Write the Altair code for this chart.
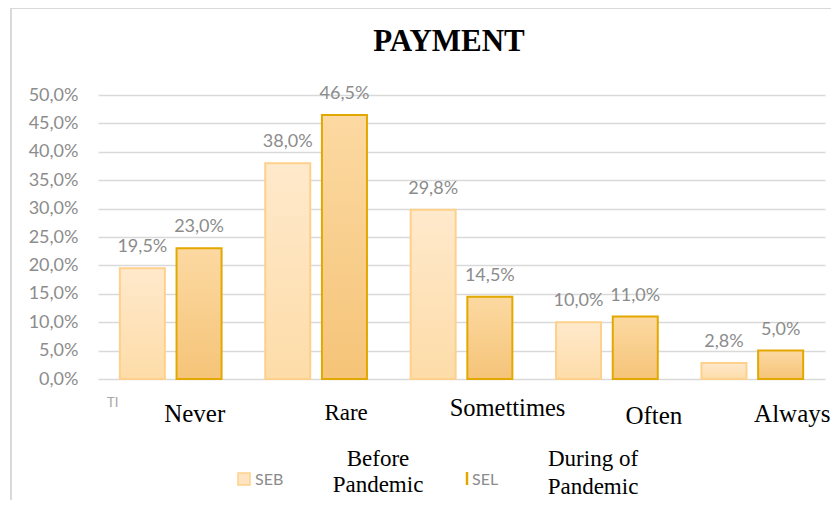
import altair as alt
import pandas as pd

categories = ["Never", "Rare", "Sometimes", "Often", "Always"]
series_names = ["Before", "During"]
before_values = [19.5, 38.0, 29.8, 10.0, 2.8]
during_values = [23.0, 46.5, 14.5, 11.0, 5.0]
y_ticks = [0, 5, 10, 15, 20, 25, 30, 35, 40, 45, 50]
x_label_texts = ["Never", "Rare", "Somettimes", "Often", "Always"]
title_text = "PAYMENT"

rows = []
for c, b, d in zip(categories, before_values, during_values):
    rows.append({"cat": c, "series": "Before", "value": b})
    rows.append({"cat": c, "series": "During", "value": d})
df = pd.DataFrame(rows)
df["label"] = df["value"].map(lambda v: f"{v:.1f}".replace(".", ",") + "%")

W, H = 727, 284
one = pd.DataFrame({"a": [0]})

x_enc = alt.X("cat:N", sort=categories,
              scale=alt.Scale(domain=categories, paddingInner=0, paddingOuter=0),
              axis=None)
xo_enc = alt.XOffset("series:N", sort=series_names,
                     scale=alt.Scale(domain=series_names, paddingInner=0.206, paddingOuter=0.385))
y_enc = alt.Y("value:Q",
              scale=alt.Scale(domain=[0, 50], nice=False, zero=True),
              axis=alt.Axis(values=y_ticks,
                            labelExpr="replace(format(datum.value, '.1f'), '.', ',') + '%'",
                            labelOverlap=False,
                            grid=True, gridColor="#D9D9D9", gridWidth=1.5,
                            domain=False, ticks=False, labelPadding=20,
                            labelFont="Lato", labelFontSize=18, labelColor="#8C8C8C",
                            title=None))

grad_before = {"gradient": "linear", "x1": 0, "y1": 0, "x2": 0, "y2": 1,
               "stops": [{"offset": 0, "color": "#FFE9CC"}, {"offset": 1, "color": "#FDDCA8"}]}
grad_during = {"gradient": "linear", "x1": 0, "y1": 0, "x2": 0, "y2": 1,
               "stops": [{"offset": 0, "color": "#FCD9A2"}, {"offset": 1, "color": "#F5C478"}]}

base = alt.Chart(df)
bars_before = base.transform_filter("datum.series == 'Before'").mark_bar(
    fill=grad_before, stroke="#FDD18C", strokeWidth=2
).encode(x=x_enc, xOffset=xo_enc, y=y_enc)
bars_during = base.transform_filter("datum.series == 'During'").mark_bar(
    fill=grad_during, stroke="#E3A800", strokeWidth=2
).encode(x=x_enc, xOffset=xo_enc, y=y_enc)

value_labels = base.mark_text(
    font="Lato", fontSize=18, color="#8C8C8C", baseline="alphabetic", dy=-16
).encode(x=x_enc, xOffset=xo_enc, y=y_enc, text="label:N")

layers = [bars_before, bars_during, value_labels]

# category labels (overlaid serif text boxes)
cat_dx = [24, 30, 46, 47, 40]
cat_y = [327, 325, 321, 329, 327]
cat_size = [25, 23, 24.5, 25, 25]
for t, c, dx, yy, fs in zip(x_label_texts, categories, cat_dx, cat_y, cat_size):
    layers.append(
        alt.Chart(one).mark_text(font="Liberation Serif", fontSize=fs, color="#000000",
                                 baseline="alphabetic", align="center", dx=dx)
        .encode(x=alt.X(datum=c, type="nominal"), y=alt.value(yy), text=alt.value(t))
    )

def txt(text, x, y, size, color="#000000", font="Liberation Serif", weight="normal", align="center"):
    return alt.Chart(one).mark_text(font=font, fontSize=size, color=color, fontWeight=weight,
                                    baseline="alphabetic", align=align).encode(
        x=alt.value(x), y=alt.value(y), text=alt.value(text))

layers.append(txt(title_text, 351, -44, 31, weight="bold"))
layers.append(txt("TI", 9, 312, 13, color="#A6A6A6", font="Lato", align="left"))

# legend
layers.append(alt.Chart(one).mark_rect(fill="#FEE4C0", stroke="#FDD18C", strokeWidth=1.5).encode(
    x=alt.value(140), x2=alt.value(152), y=alt.value(378), y2=alt.value(390)))
layers.append(txt("SEB", 157, 390, 16, color="#8C8C8C", font="Lato", align="left"))
layers.append(alt.Chart(one).mark_rule(color="#E3A800", strokeWidth=2.5).encode(
    x=alt.value(369), y=alt.value(377), y2=alt.value(390)))
layers.append(txt("SEL", 374, 390, 16, color="#8C8C8C", font="Lato", align="left"))
layers.append(txt("Before", 280, 371, 23))
layers.append(txt("Pandemic", 280, 397, 23))
layers.append(txt("During of", 495, 371, 23))
layers.append(txt("Pandemic", 495, 399, 23))

# chart frame
layers.append(alt.Chart(one).mark_rule(color="#D9D9D9", strokeWidth=2).encode(
    x=alt.value(-87), y=alt.value(-87), y2=alt.value(420)))
layers.append(alt.Chart(one).mark_rule(color="#D9D9D9", strokeWidth=2).encode(
    x=alt.value(-87), x2=alt.value(745), y=alt.value(-87)))

chart = alt.layer(*layers).properties(
    width=W, height=H,
    padding={"left": 90, "top": 87, "right": 6, "bottom": 121},
    autosize=alt.AutoSizeParams(type="none"),
    background="#FFFFFF",
).configure_view(stroke=None)

chart.save("out.html", embed_options={"renderer": "svg", "actions": False})
